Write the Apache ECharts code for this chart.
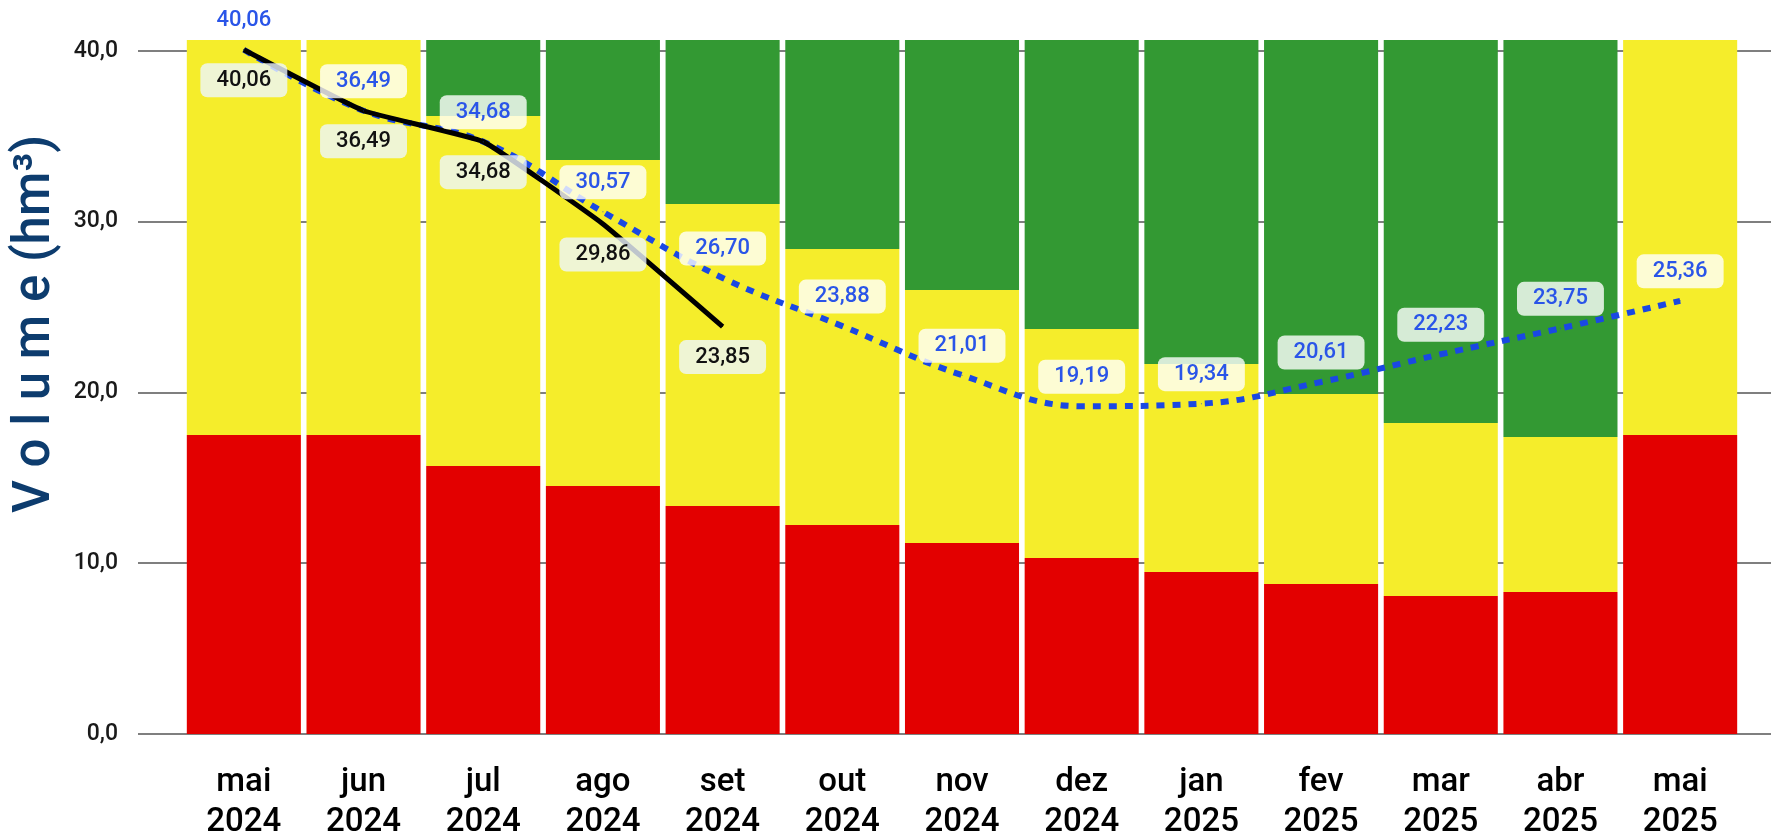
<!DOCTYPE html>
<html>
<head>
    <meta charset="utf-8">
    <script src="https://cdn.jsdelivr.net/npm/echarts@6/dist/echarts.min.js"></script>
    <style type="text/css">
        html, body { width: 100%; height: 100%; margin: 0; background: #fff; }
        #chart { width: 1771px; height: 835px; }
    </style>
</head>
<body>
<div id="chart"></div>
<script type="text/javascript">
    // meses
    var categories = ['mai\n2024', 'jun\n2024', 'jul\n2024', 'ago\n2024', 'set\n2024', 'out\n2024',
        'nov\n2024', 'dez\n2024', 'jan\n2025', 'fev\n2025', 'mar\n2025', 'abr\n2025', 'mai\n2025'];

    // faixas (hm³) empilhadas
    var faixaVermelha = [17.51, 17.51, 15.69, 14.52, 13.35, 12.24, 11.18, 10.30, 9.48, 8.78, 8.08, 8.31, 17.51];
    var faixaAmarela = [23.12, 23.12, 20.49, 19.09, 17.68, 16.16, 14.82, 13.41, 12.18, 11.13, 10.13, 9.08, 23.12];
    var faixaVerde = [0, 0, 4.45, 7.02, 9.60, 12.23, 14.63, 16.92, 18.97, 20.72, 22.42, 23.24, 0];

    // volume observado e previsto
    var volumeObservado = [40.06, 36.49, 34.68, 29.86, 23.85, null, null, null, null, null, null, null, null];
    var volumePrevisto = [40.06, 36.49, 34.68, 30.57, 26.70, 23.88, 21.01, 19.19, 19.34, 20.61, 22.23, 23.75, 25.36];

    var yTicks = [0, 10, 20, 30, 40];
    var yMax = 40.63;

    var FONT = 'Roboto';

    function virgula(v, n) {
        return Number(v).toFixed(n).replace('.', ',');
    }

    var myChart = echarts.init(document.getElementById('chart'), null, {renderer: 'canvas'});

    var option = {
        animation: false,
        backgroundColor: '#fff',
        textStyle: {fontFamily: FONT},
        grid: [
            // grade só para as linhas horizontais (mais larga que as barras)
            {left: 138, right: 0, top: 40, bottom: 101, containLabel: false, outerBoundsMode: 'none'},
            {left: 184, right: 31, top: 40, bottom: 101, containLabel: false, outerBoundsMode: 'none'}
        ],
        graphic: [{
            type: 'text',
            x: 36,
            y: 324,
            rotation: Math.PI / 2,
            style: {
                text: 'V o l u m e (hm³)',
                fontFamily: FONT,
                fontSize: 51,
                fontWeight: 500,
                fill: '#0d3c6e',
                align: 'center',
                verticalAlign: 'middle'
            }
        }],
        xAxis: [
            {gridIndex: 0, type: 'category', data: categories, show: false},
            {
                gridIndex: 1,
                type: 'category',
                data: categories,
                axisLine: {show: false},
                axisTick: {show: false},
                axisLabel: {
                    margin: 29,
                    color: '#000',
                    fontFamily: FONT,
                    fontWeight: 500,
                    fontSize: 33,
                    lineHeight: 40
                }
            }
        ],
        yAxis: [
            {
                gridIndex: 0,
                type: 'value',
                min: yTicks[0],
                max: yMax,
                interval: yTicks[1] - yTicks[0],
                axisLine: {show: false},
                axisTick: {show: false},
                splitLine: {show: true, showMaxLine: false, lineStyle: {color: '#7f7f7f', width: 2}},
                axisLabel: {
                    showMaxLabel: false,
                    margin: 20,
                    color: '#1a1a1a',
                    fontFamily: FONT,
                    fontWeight: 500,
                    fontSize: 23,
                    formatter: function (v) { return virgula(v, 1); }
                }
            },
            {
                gridIndex: 1,
                type: 'value',
                min: yTicks[0],
                max: yMax,
                interval: yTicks[1] - yTicks[0],
                show: false,
                splitLine: {show: false}
            }
        ],
        series: [
            {
                type: 'bar', xAxisIndex: 1, yAxisIndex: 1, stack: 'faixas',
                data: faixaVermelha, barCategoryGap: '4.7%',
                itemStyle: {color: '#e30000'}
            },
            {
                type: 'bar', xAxisIndex: 1, yAxisIndex: 1, stack: 'faixas',
                data: faixaAmarela, barCategoryGap: '4.7%',
                itemStyle: {color: '#f5ed2b'}
            },
            {
                type: 'bar', xAxisIndex: 1, yAxisIndex: 1, stack: 'faixas',
                data: faixaVerde, barCategoryGap: '4.7%',
                itemStyle: {color: '#339933'}
            },
            {
                type: 'line', xAxisIndex: 1, yAxisIndex: 1,
                data: volumePrevisto,
                smooth: 0.4,
                symbol: 'circle', symbolSize: 1,
                itemStyle: {color: '#1a48e3'},
                lineStyle: {color: '#1a48e3', width: 6, type: [8, 8]},
                label: {
                    show: true,
                    position: 'top',
                    distance: 12,
                    color: '#2a55e8',
                    fontFamily: FONT,
                    fontWeight: 500,
                    fontSize: 22,
                    backgroundColor: 'rgba(255,255,255,0.8)',
                    padding: [6, 16],
                    borderRadius: 7,
                    formatter: function (p) { return virgula(p.value, 2); }
                }
            },
            {
                type: 'line', xAxisIndex: 1, yAxisIndex: 1,
                data: volumeObservado,
                smooth: 0.1,
                symbol: 'circle', symbolSize: 1,
                itemStyle: {color: '#000'},
                lineStyle: {color: '#000', width: 5},
                label: {
                    show: true,
                    position: 'bottom',
                    distance: 13,
                    color: '#111',
                    fontFamily: FONT,
                    fontWeight: 500,
                    fontSize: 22,
                    backgroundColor: 'rgba(238,246,255,0.8)',
                    padding: [6, 16],
                    borderRadius: 7,
                    formatter: function (p) { return virgula(p.value, 2); }
                }
            }
        ]
    };

    myChart.setOption(option);
</script>
</body>
</html>
